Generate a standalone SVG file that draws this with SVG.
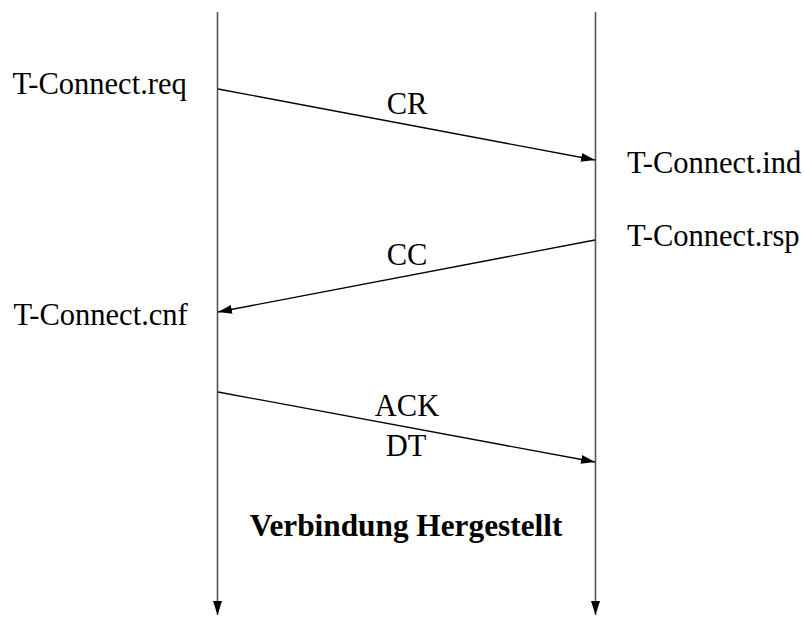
<svg xmlns="http://www.w3.org/2000/svg" width="804" height="617" viewBox="0 0 804 617">
<style>
text { font-family: "Liberation Serif", "Times New Roman", serif; font-size: 30.5px; fill: #000; }
.lbl { text-anchor: middle; }
.bold { font-weight: bold; text-anchor: middle; font-size: 31.3px; }
.life { stroke: #555; stroke-width: 1.6; fill: none; }
.msg { stroke: #000; stroke-width: 1.3; fill: none; }
</style>
<defs>
<marker id="ah" markerUnits="userSpaceOnUse" markerWidth="15" markerHeight="10" refX="14" refY="4.5" orient="auto">
<path d="M0,0 L14,4.5 L0,9 z" fill="#000"/>
</marker>
</defs>
<rect width="804" height="617" fill="#fff"/>
<g id="lifelines">
<line class="life" x1="217.5" y1="12" x2="217.5" y2="615" marker-end="url(#ah)"/>
<line class="life" x1="595.5" y1="12" x2="595.5" y2="615" marker-end="url(#ah)"/>
</g>
<g id="connectors">
<line class="msg" x1="218" y1="89" x2="595" y2="160" marker-end="url(#ah)"/>
<line class="msg" x1="595" y1="240" x2="218" y2="312" marker-end="url(#ah)"/>
<line class="msg" x1="218" y1="392" x2="595" y2="462" marker-end="url(#ah)"/>
</g>
<g id="labels-left">
<text x="12.5" y="94">T-Connect.req</text>
<text x="13.5" y="325">T-Connect.cnf</text>
</g>
<g id="labels-right">
<text x="627" y="173">T-Connect.ind</text>
<text x="627" y="246">T-Connect.rsp</text>
</g>
<g id="messages">
<text class="lbl" x="407" y="114">CR</text>
<text class="lbl" x="407" y="265">CC</text>
<text class="lbl" x="407" y="416">ACK</text>
<text class="lbl" x="406" y="456">DT</text>
</g>
<g id="status">
<text class="bold" x="406" y="536">Verbindung Hergestellt</text>
</g>
</svg>
